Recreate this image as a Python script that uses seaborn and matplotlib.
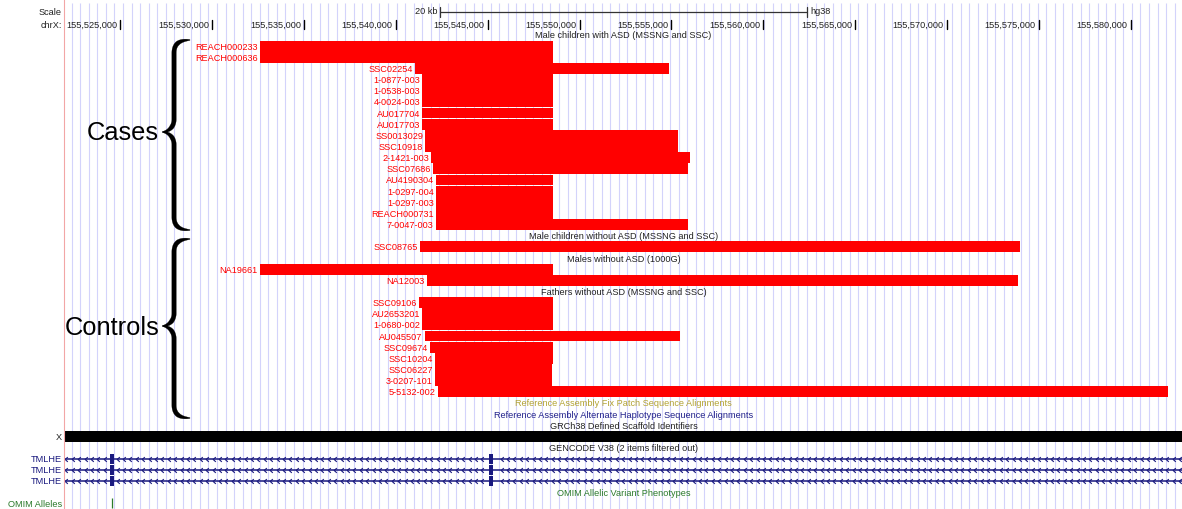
import numpy as np
import pandas as pd
import matplotlib
matplotlib.use("Agg")
import matplotlib.pyplot as plt
import matplotlib.transforms as mtransforms
from matplotlib.patches import Polygon
from matplotlib.path import Path
import seaborn as sns

# ---- browser window (hg38, chrX) ----
WIN_START = 155_521_990
WIN_END = 155_582_800
TICK_STEP = 5_000
SCALE_BAR_BP = 20_000

# ---- CNV deletions: Male children with ASD (MSSNG and SSC) ----
asd_ids = ["REACH000233", "REACH000636", "SSC02254", "1-0877-003", "1-0538-003",
           "4-0024-003", "AU017704", "AU017703", "SS0013029", "SSC10918",
           "2-1421-003", "SSC07686", "AU4190304", "1-0297-004", "1-0297-003",
           "REACH000731", "7-0047-003"]
asd_start = [155532600, 155532600, 155541050, 155541440, 155541440,
             155541440, 155541440, 155541440, 155541600, 155541600,
             155541920, 155542010, 155542170, 155542170, 155542170,
             155542170, 155542170]
asd_end = [155548540, 155548540, 155554850, 155548540, 155548540,
           155548540, 155548540, 155548540, 155555380, 155555380,
           155556000, 155555920, 155548540, 155548540, 155548540,
           155548540, 155555920]

# ---- Male children without ASD (MSSNG and SSC) ----
sib_ids = ["SSC08765"]
sib_start = [155541300]
sib_end = [155573960]

# ---- Males without ASD (1000G) ----
kg_ids = ["NA19661", "NA12003"]
kg_start = [155532600, 155541680]
kg_end = [155548540, 155573850]

# ---- Fathers without ASD (MSSNG and SSC) ----
fa_ids = ["SSC09106", "AU2653201", "1-0680-002", "AU045507", "SSC09674",
          "SSC10204", "SSC06227", "3-0207-101", "5-5132-002"]
fa_start = [155541250, 155541440, 155541440, 155541570, 155541850,
            155542120, 155542120, 155542120, 155542280]
fa_end = [155548540, 155548540, 155548540, 155555450, 155548540,
          155548540, 155548490, 155548490, 155582015]

# ---- annotation tracks ----
gene_name = "TMLHE"
gene_transcripts = 3
exon_start = [155524450, 155545080]
exon_end = [155524670, 155545300]
omim_pos = [155524560]

# ---- assemble rows ----
groups = [
    ("Male children with ASD (MSSNG and SSC)", asd_ids, asd_start, asd_end),
    ("Male children without ASD (MSSNG and SSC)", sib_ids, sib_start, sib_end),
    ("Males without ASD (1000G)", kg_ids, kg_start, kg_end),
    ("Fathers without ASD (MSSNG and SSC)", fa_ids, fa_start, fa_end),
]
records, track_titles = [], []
k = 0
for title, ids, s, e in groups:
    track_titles.append((k, title, "#222222"))
    k += 1
    for name, a, b in zip(ids, s, e):
        records.append(dict(sample=name, start=a, end=b, row=k, track=title))
        k += 1
cnv = pd.DataFrame(records)

track_titles.append((k, "Reference Assembly Fix Patch Sequence Alignments", "#b3a333")); k += 1
track_titles.append((k, "Reference Assembly Alternate Haplotype Sequence Alignments", "#1f1f8a")); k += 1
track_titles.append((k, "GRCh38 Defined Scaffold Identifiers", "#222222")); k += 1
row_scaffold = k; k += 1
track_titles.append((k, "GENCODE V38 (2 items filtered out)", "#222222")); k += 1
gene_rows = list(range(k, k + gene_transcripts)); k += gene_transcripts
track_titles.append((k, "OMIM Allelic Variant Phenotypes", "#2b7a2b")); k += 1
row_omim = k

# ---- figure ----
sns.set_theme(style="white")
plt.rcParams["font.family"] = ["Liberation Sans", "DejaVu Sans"]
FS = 6.6
NAVY = "#19197f"
GREEN = "#2b7a2b"
RED = "#ff0000"

W, H = 1182, 510
LEFT = 65
PITCH = 11.15
Y0 = 36

fig = plt.figure(figsize=(W / 100, H / 100), dpi=100)
fig.patch.set_facecolor("white")


def row_of(ypx):
    return (ypx - Y0) / PITCH


ax = fig.add_axes([LEFT / W, 0, (W - LEFT) / W, 1])
ax.set_xlim(WIN_START, WIN_END)
ax.set_ylim(row_of(H), row_of(0))
ax.set_facecolor("none")
sns.despine(ax=ax, left=True, bottom=True)
ax.axis("off")

over = fig.add_axes([0, 0, 1, 1], zorder=5)
over.set_xlim(0, W)
over.set_ylim(H, 0)
over.axis("off")
over.set_facecolor("none")

# guide lines
bp_per_px = (WIN_END - WIN_START) / (W - LEFT)
guides = np.arange(WIN_START + 6.7 * bp_per_px, WIN_END, 8.55 * bp_per_px)
ax.vlines(guides, row_of(4), row_of(H), color="#d3d3fb", lw=0.8, zorder=0)
over.plot([63.5, 63.5], [0, H], color="#f2a6a6", lw=0.8, zorder=1)

left_lbl = mtransforms.offset_copy(ax.transData, fig=fig, x=-2, y=0, units="dots")
right_lbl = mtransforms.offset_copy(ax.transData, fig=fig, x=3, y=0, units="dots")

# base position ruler
for p in range((WIN_START // TICK_STEP + 1) * TICK_STEP, WIN_END, TICK_STEP):
    ax.plot([p, p], [row_of(20.5), row_of(29.8)], color="black", lw=1.0, zorder=3)
    ax.text(p, row_of(25.5), f"{p:,}", ha="right", va="center", fontsize=FS,
            color="#222222", transform=mtransforms.offset_copy(
                ax.transData, fig=fig, x=-3, y=0, units="dots"))
over.text(62, 12.5, "Scale", ha="right", va="center", fontsize=FS, color="#222222")
over.text(62, 25.5, "chrX:", ha="right", va="center", fontsize=FS, color="#222222")

mid = (WIN_START + WIN_END) / 2
sb0, sb1 = mid - SCALE_BAR_BP / 2, mid + SCALE_BAR_BP / 2
ax.plot([sb0, sb1], [row_of(13), row_of(13)], color="#333333", lw=0.9, zorder=3)
for p in (sb0, sb1):
    ax.plot([p, p], [row_of(8), row_of(18)], color="#333333", lw=0.9, zorder=3)
ax.text(sb0, row_of(12), f"{SCALE_BAR_BP // 1000} kb", ha="right", va="center",
        fontsize=FS, color="#222222", transform=left_lbl)
ax.text(sb1, row_of(12), "hg38", ha="left", va="center", fontsize=FS,
        color="#222222", transform=right_lbl)

# track titles
for r, title, col in track_titles:
    ax.text(mid, r, title, ha="center", va="center", fontsize=FS, color=col, zorder=4)

# CNV bars and sample names
ax.barh(cnv["row"], cnv["end"] - cnv["start"], left=cnv["start"], height=0.97,
        color=RED, lw=0, zorder=2)
for _, rec in cnv.iterrows():
    ax.text(rec["start"], rec["row"], rec["sample"], ha="right", va="center",
            fontsize=FS, color=RED, transform=left_lbl, zorder=4)

# scaffold ideogram
ax.barh([row_scaffold], [WIN_END - WIN_START], left=[WIN_START], height=1.0,
        color="black", lw=0, zorder=2)
over.text(62, Y0 + row_scaffold * PITCH, "X", ha="right", va="center",
          fontsize=FS, color="#222222")

# gene transcripts (minus strand)
chev = Path([(0.55, 1.0), (-0.55, 0.0), (0.55, -1.0)],
            [Path.MOVETO, Path.LINETO, Path.LINETO])
arrow_pos = np.arange(WIN_START + 1.5 * bp_per_px, WIN_END, 6.4 * bp_per_px)
keep = np.ones(len(arrow_pos), bool)
for a, b in zip(exon_start, exon_end):
    keep &= ~((arrow_pos > a - 2.5 * bp_per_px) & (arrow_pos < b + 2.5 * bp_per_px))
arrow_pos = arrow_pos[keep]
for r in gene_rows:
    ax.plot([WIN_START, WIN_END], [r, r], color=NAVY, lw=1.1, zorder=2,
            solid_capstyle="butt")
    ax.plot(arrow_pos, np.full(len(arrow_pos), r), ls="none", marker=chev,
            markersize=3.4, markerfacecolor="none", markeredgecolor=NAVY,
            markeredgewidth=0.8, zorder=2)
    ax.barh([r] * len(exon_start), np.subtract(exon_end, exon_start),
            left=exon_start, height=0.92, color=NAVY, lw=0, zorder=3)
    over.text(62, Y0 + r * PITCH, gene_name, ha="right", va="center",
              fontsize=FS, color=NAVY)

# OMIM alleles
ax.vlines(omim_pos, row_omim - 0.45, row_omim + 0.45, color=GREEN, lw=0.9, zorder=3)
over.text(62, Y0 + row_omim * PITCH, "OMIM Alleles", ha="right", va="center",
          fontsize=FS, color=GREEN)


# ---- group braces ----
def bezier(p0, p1, p2, p3, n=60):
    t = np.linspace(0, 1, n)[:, None]
    return ((1 - t) ** 3 * np.array(p0) + 3 * (1 - t) ** 2 * t * np.array(p1)
            + 3 * (1 - t) * t ** 2 * np.array(p2) + t ** 3 * np.array(p3))


def stroke(axis, pts, w):
    # drop repeated points so every tangent is defined
    keep = np.concatenate([[True], np.hypot(*np.diff(pts, axis=0).T) > 1e-9])
    pts, w = pts[keep], w[keep]
    tan = np.gradient(pts, axis=0)
    tan /= np.hypot(tan[:, 0], tan[:, 1])[:, None]
    nrm = np.column_stack([-tan[:, 1], tan[:, 0]])
    outer = pts + nrm * w[:, None] / 2
    inner = pts - nrm * w[:, None] / 2
    axis.add_patch(Polygon(np.vstack([outer, inner[::-1]]), closed=True,
                           facecolor="black", edgecolor="black", lw=0.2, zorder=6))


def brace(axis, x_tip, x_end, y_top, y_tip, y_bot, wmax=4.4, wmin=0.7):
    xv = x_tip + 0.42 * (x_end - x_tip)
    r = 13.0
    for y_end, sgn in ((y_top, 1), (y_bot, -1)):
        a = bezier((x_end, y_end), (xv + 5, y_end), (xv, y_end + sgn * 4),
                   (xv, y_end + sgn * r))
        b = np.linspace((xv, y_end + sgn * r), (xv, y_tip - sgn * r), 40)
        c = bezier((xv, y_tip - sgn * r), (xv, y_tip - sgn * 4),
                   (x_tip + 5, y_tip - sgn * 0.3), (x_tip, y_tip))
        pts = np.vstack([a, b, c])
        seg = np.hypot(*np.diff(pts, axis=0).T)
        s = np.concatenate([[0], np.cumsum(seg)]) / seg.sum()
        prof = np.minimum(1.0, np.minimum(s / 0.12, (1 - s) / 0.1))
        w = wmin + (wmax - wmin) * np.clip(prof, 0, 1) ** 0.8
        stroke(axis, pts, w)


brace(over, 162.5, 190, 41, 133, 231)
brace(over, 162.5, 190, 240, 327, 419)
over.text(159, 133, "Cases", ha="right", va="center", fontsize=18.4,
          color="black", zorder=6)
over.text(159, 328, "Controls", ha="right", va="center", fontsize=18.4,
          color="black", zorder=6)

fig.savefig("out.png", dpi=100, facecolor="white")
